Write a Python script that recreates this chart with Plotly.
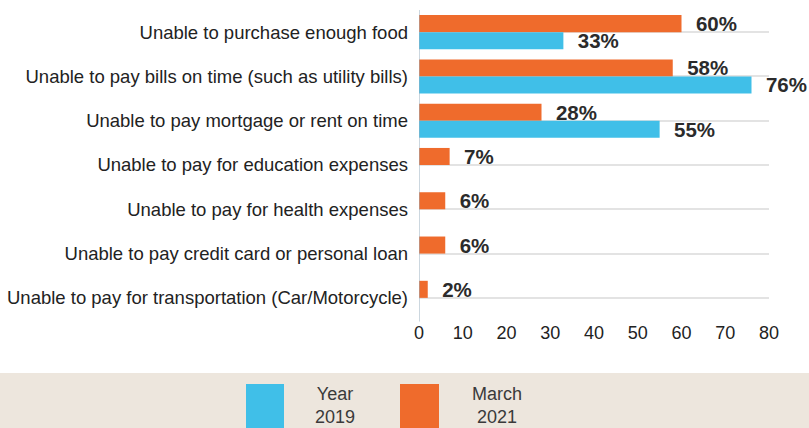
import plotly.graph_objects as go

categories = [
    "Unable to purchase enough food",
    "Unable to pay bills on time (such as utility bills)",
    "Unable to pay mortgage or rent on time",
    "Unable to pay for education expenses",
    "Unable to pay for health expenses",
    "Unable to pay credit card or personal loan",
    "Unable to pay for transportation (Car/Motorcycle)",
]
march_2021 = [60, 58, 28, 7, 6, 6, 2]
year_2019 = [33, 76, 55, None, None, None, None]
x_ticks = [0, 10, 20, 30, 40, 50, 60, 70, 80]

BLUE = "#40BFE8"
ORANGE = "#EF6B2C"
W, H = 809, 428
ML, MR, MT, MB = 419, 40, 10, 108

def labels(vals):
    return ["" if v is None else f"<b>\u00a0\u00a0{v}%</b>" for v in vals]

vfont = dict(family="Liberation Sans, Arial", size=20.5, color="#2b2b2b")

fig = go.Figure()
fig.add_trace(go.Bar(
    y=categories, x=march_2021, orientation="h", name="March 2021",
    marker=dict(color=ORANGE, line=dict(width=0)),
    text=labels(march_2021), textposition="outside", textfont=vfont,
    cliponaxis=False,
))
fig.add_trace(go.Bar(
    y=categories, x=year_2019, orientation="h", name="Year 2019",
    marker=dict(color=BLUE, line=dict(width=0)),
    text=labels(year_2019), textposition="outside", textfont=vfont,
    cliponaxis=False,
))

fig.update_layout(
    width=W, height=H,
    margin=dict(l=ML, r=MR, t=MT, b=MB, autoexpand=False),
    barmode="group", bargap=0.23, bargroupgap=0,
    plot_bgcolor="white", paper_bgcolor="white",
    showlegend=False,
    font=dict(family="Liberation Sans, Arial", color="#222222"),
    uniformtext=dict(minsize=20, mode="show"),
)
fig.update_xaxes(
    range=[0, 80], tickvals=x_ticks, showgrid=False, zeroline=False,
    showline=False, ticks="", automargin=False,
    tickfont=dict(size=18, color="#222222"),
)
fig.update_yaxes(
    autorange="reversed", showgrid=True, gridcolor="#E3E3E3", gridwidth=2,
    showline=False, ticks="", ticklabelstandoff=10, automargin=False,
    tickfont=dict(size=18.5, color="#222222"),
)
# thin axis line at x=0
fig.add_shape(type="line", xref="x", yref="paper", x0=0, x1=0, y0=-0.005, y1=1,
              line=dict(color="#9AB0C0", width=1))

def px_x(p):
    return (p - ML) / (W - ML - MR)

def px_y(p):
    return 1 - (p - MT) / (H - MT - MB)

# legend band
fig.add_shape(type="rect", xref="paper", yref="paper", x0=px_x(0), x1=px_x(W),
              y0=px_y(H + 2), y1=px_y(373),
              fillcolor="#EDE6DD", line=dict(width=0), layer="below")

for (x0, x1, color, txt, tx) in [
    (246, 284, BLUE, "Year<br>2019", 335),
    (400, 439, ORANGE, "March<br>2021", 497),
]:
    fig.add_shape(type="rect", xref="paper", yref="paper",
                  x0=px_x(x0), x1=px_x(x1), y0=px_y(H + 5), y1=px_y(384),
                  fillcolor=color, line=dict(width=0))
    fig.add_annotation(xref="paper", yref="paper", x=px_x(tx), y=px_y(382),
                       text=txt, showarrow=False, xanchor="center", yanchor="top",
                       align="center",
                       font=dict(family="Liberation Sans", size=18, color="#3a3a3a"))

fig.write_html("out.html", config={"displayModeBar": False})

# remove the browser's default body margin so the figure sits at the page origin
with open("out.html", "r", encoding="utf-8") as f:
    html = f.read()
html = html.replace("<body>", '<body style="margin:0;padding:0;overflow:hidden">', 1)
with open("out.html", "w", encoding="utf-8") as f:
    f.write(html)
